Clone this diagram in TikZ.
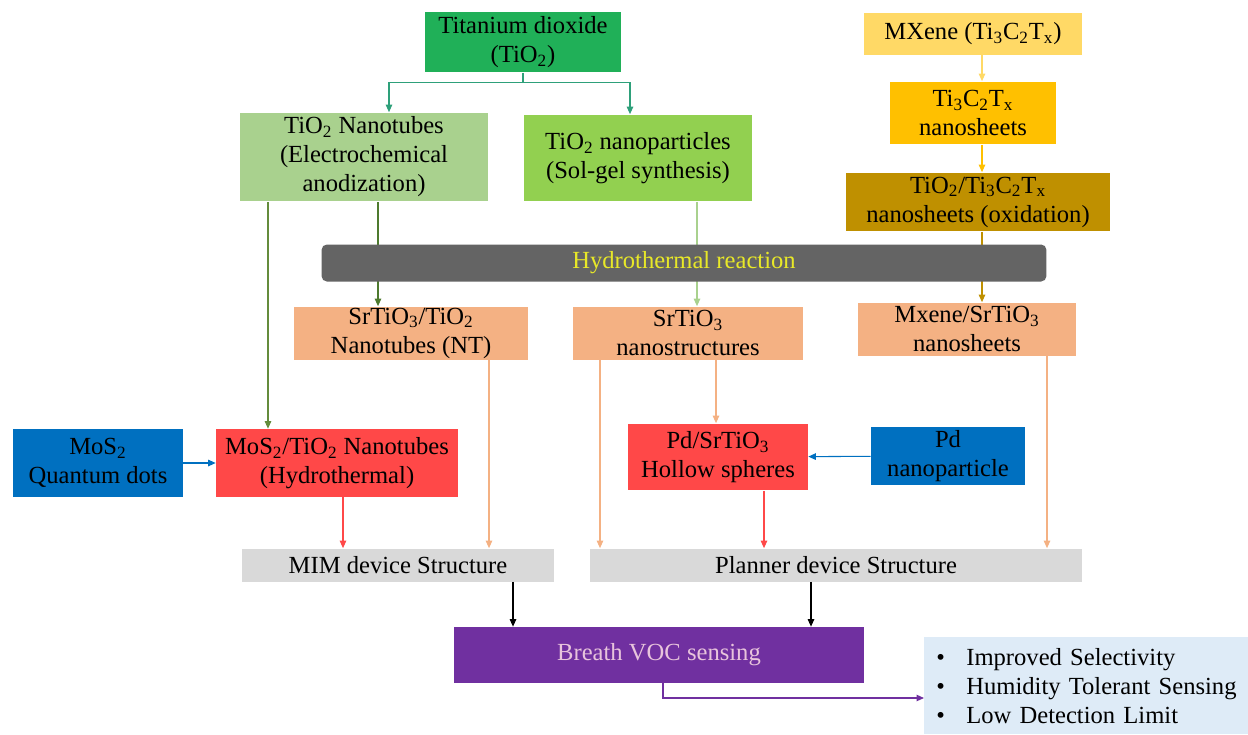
\documentclass[tikz,border=0pt]{standalone}
\usepackage{fontspec}
\setmainfont{Liberation Serif}
\newfontfamily\boxfont{Liberation Serif}
\usepackage{xcolor}
\usepackage{tikz}
\usetikzlibrary{arrows.meta}
\usetikzlibrary{positioning}

\definecolor{tdgreen}{RGB}{32,176,88}
\definecolor{ntgreen}{RGB}{169,209,142}
\definecolor{npgreen}{RGB}{146,208,80}
\definecolor{mxlight}{RGB}{255,217,102}
\definecolor{mxgold}{RGB}{255,192,0}
\definecolor{mxdark}{RGB}{191,144,0}
\definecolor{bargray}{RGB}{100,100,100}
\definecolor{baryellow}{RGB}{232,232,40}
\definecolor{salmon}{RGB}{244,177,131}
\definecolor{qblue}{RGB}{0,112,192}
\definecolor{hred}{RGB}{255,72,72}
\definecolor{devgray}{RGB}{217,217,217}
\definecolor{vocpurple}{RGB}{112,48,160}
\definecolor{vocpink}{RGB}{232,196,220}
\definecolor{bulblue}{RGB}{222,235,247}
\definecolor{linkteal}{RGB}{46,160,122}
\definecolor{linkolive}{RGB}{100,140,60}
\definecolor{linkdark}{RGB}{78,122,46}

\newcommand{\lowsub}[1]{\textsubscript{#1}}

\begin{document}
\begin{tikzpicture}[
  x=0.02cm, y=-0.02cm,
  every node/.style={font=\boxfont\fontsize{14}{16.5}\selectfont, align=center, inner sep=0pt},
  box/.style={fill=#1},
  link/.style={draw=#1, line width=0.6pt, -{Triangle[length=1.5mm,width=1.3mm]}}
]
\useasboundingbox (0,0) rectangle (1248,734);

\node[box=tdgreen, minimum width=3.94cm, minimum height=1.22cm] (tio) at (523,42) {Titanium dioxide\\(TiO\lowsub{2})};
\node[box=ntgreen, minimum width=4.96cm, minimum height=1.78cm] (ntb) at (364,157) {TiO\lowsub{2} Nanotubes\\(Electrochemical\\anodization)};
\node[box=npgreen, minimum width=4.58cm, minimum height=1.74cm] (npt) at (638,158) {TiO\lowsub{2} nanoparticles\\(Sol-gel synthesis)};
\node[box=mxlight, minimum width=4.36cm, minimum height=0.84cm] (mxa) at (973,34) {MXene (Ti\lowsub{3}C\lowsub{2}T\lowsub{x})};
\node[box=mxgold, minimum width=3.34cm, minimum height=1.26cm] (mxb) at (973,113) {Ti\lowsub{3}C\lowsub{2}T\lowsub{x}\\nanosheets};
\node[box=mxdark, minimum width=5.28cm, minimum height=1.18cm] (mxc) at (978,202) {TiO\lowsub{2}/Ti\lowsub{3}C\lowsub{2}T\lowsub{x}\\nanosheets (oxidation)};

\node[box=salmon, minimum width=4.68cm, minimum height=1.06cm] (snt) at (411,333) {SrTiO\lowsub{3}/TiO\lowsub{2}\\Nanotubes (NT)};
\node[box=salmon, minimum width=4.6cm, minimum height=1.06cm] (sns) at (688,333) {SrTiO\lowsub{3}\\nanostructures};
\node[box=salmon, minimum width=4.38cm, minimum height=1.06cm] (msn) at (967,329) {Mxene/SrTiO\lowsub{3}\\nanosheets};

\node[box=qblue, minimum width=3.4cm, minimum height=1.36cm] (qd) at (98,463) {MoS\lowsub{2}\\Quantum dots};
\node[box=hred, minimum width=4.84cm, minimum height=1.36cm] (mtn) at (337,463) {MoS\lowsub{2}/TiO\lowsub{2} Nanotubes\\(Hydrothermal)};
\node[box=hred, minimum width=3.6cm, minimum height=1.34cm] (pds) at (718,457) {Pd/SrTiO\lowsub{3}\\Hollow spheres};
\node[box=qblue, minimum width=3.08cm, minimum height=1.16cm] (pdn) at (948,456) {Pd\\nanoparticle};

\node[box=devgray, minimum width=6.26cm, minimum height=0.66cm] (mim) at (398,565) {MIM device Structure};
\node[box=devgray, minimum width=9.86cm, minimum height=0.66cm] (pln) at (836,565) {Planner device Structure};
\node[box=vocpurple, text=vocpink, minimum width=8.2cm, minimum height=1.12cm] (voc) at (659,655) {Breath VOC sensing};
\node[box=bulblue, anchor=north west, text width=6.2cm, inner xsep=0.14cm, minimum height=1.94cm, align=left] (bul) at (924,637)
  {\makebox[0.7cm][l]{\hspace{0.1cm}\textbullet}Improved Selectivity\\
   \makebox[0.7cm][l]{\hspace{0.1cm}\textbullet}Humidity Tolerant Sensing\\
   \makebox[0.7cm][l]{\hspace{0.1cm}\textbullet}Low Detection Limit};

\draw[link=linkteal] (tio.south) -- ++(0,10) -| (389,0 |- ntb.north);
\draw[link=linkteal] (tio.south) -- ++(0,10) -| (630,0 |- npt.north);
\draw[link=mxlight] (982,0 |- mxa.south) -- (982,0 |- mxb.north);
\draw[link=mxgold] (982,0 |- mxb.south) -- (982,0 |- mxc.north);
\draw[link=mxdark] (982,0 |- mxc.south) -- (982,0 |- msn.north);
\draw[link=linkolive] (268,0 |- ntb.south) -- (268,0 |- mtn.north);
\draw[link=linkdark] (378,0 |- ntb.south) -- (378,0 |- snt.north);
\draw[link=ntgreen] (697,0 |- npt.south) -- (697,0 |- sns.north);
\draw[link=salmon] (489,0 |- snt.south) -- (489,0 |- mim.north);
\draw[link=hred] (343,0 |- mtn.south) -- (343,0 |- mim.north);
\draw[link=qblue] (qd) -- (mtn);
\draw[link=salmon] (600,0 |- sns.south) -- (600,0 |- pln.north);
\draw[link=salmon] (716,0 |- sns.south) -- (716,0 |- pds.north);
\draw[link=qblue] (pdn) -- (pds);
\draw[link=hred] (764,0 |- pds.south) -- (764,0 |- pln.north);
\draw[link=salmon] (1047,0 |- msn.south) -- (1047,0 |- pln.north);
\draw[link=black] (513,0 |- mim.south) -- (513,0 |- voc.north);
\draw[link=black] (811,0 |- pln.south) -- (811,0 |- voc.north);
\draw[link=vocpurple] (663,0 |- voc.south) |- (bul.west |- 0,698);

\node[box=bargray, text=baryellow, rounded corners=3pt, minimum width=14.5cm, minimum height=0.74cm] (bar) at (684,263) {Hydrothermal reaction};
\end{tikzpicture}
\end{document}
